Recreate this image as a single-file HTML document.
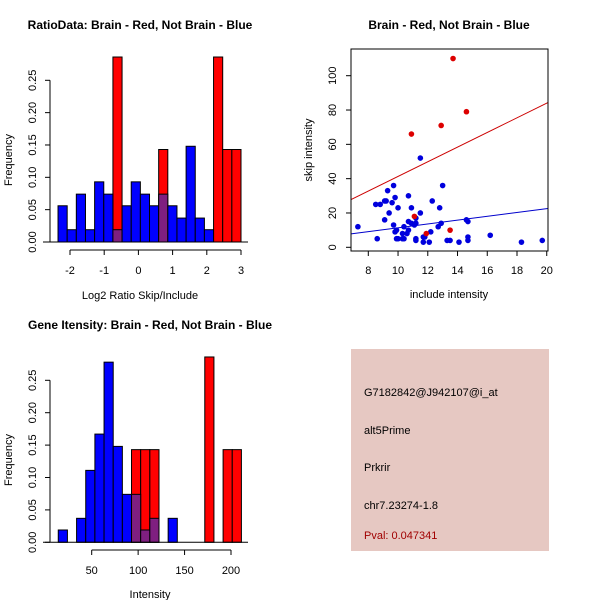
<!DOCTYPE html>
<html><head><meta charset="utf-8">
<style>
html,body{margin:0;padding:0;background:#fff;}
svg{display:block;font-family:"Liberation Sans",Arial,sans-serif;}
</style></head>
<body>
<svg id="c" width="600" height="600" viewBox="0 0 600 600" xmlns="http://www.w3.org/2000/svg">
<rect width="600" height="600" fill="#fff"/>
<text x="140" y="29" font-size="12" font-weight="bold" text-anchor="middle">RatioData: Brain - Red, Not Brain - Blue</text>
<text x="449" y="29" font-size="12" font-weight="bold" text-anchor="middle">Brain - Red, Not Brain - Blue</text>
<text x="150" y="329" font-size="12" font-weight="bold" text-anchor="middle">Gene Itensity: Brain - Red, Not Brain - Blue</text>
<text x="140" y="299" font-size="11" text-anchor="middle">Log2 Ratio Skip/Include</text>
<text x="0" y="0" font-size="11" text-anchor="middle" transform="translate(12,160) rotate(-90)">Frequency</text>
<text x="449" y="298" font-size="11" text-anchor="middle">include intensity</text>
<text x="0" y="0" font-size="11" text-anchor="middle" transform="translate(312,150) rotate(-90)">skip intensity</text>
<text x="150" y="598" font-size="11" text-anchor="middle">Intensity</text>
<text x="0" y="0" font-size="11" text-anchor="middle" transform="translate(12,460) rotate(-90)">Frequency</text>
<g>
<rect x="351" y="349" width="198" height="202" fill="#e6c8c2"/>
<text x="364" y="396" font-size="11">G7182842@J942107@i_at</text>
<text x="364" y="434" font-size="11">alt5Prime</text>
<text x="364" y="471" font-size="11">Prkrir</text>
<text x="364" y="509" font-size="11">chr7.23274-1.8</text>
<text x="364" y="539" font-size="11" fill="#a00000">Pval: 0.047341</text>
</g>
<g id="g1"></g><g id="g2"></g><g id="g3"></g>
</svg>
<script>
// ---- Ratio histogram data ----
const ratioBreakStart = -2.35;
const ratioBinWidth = 0.2675;
const ratioBlue = [0.056,0.019,0.074,0.019,0.093,0.074,0.019,0.056,0.093,0.074,0.056,0.074,0.056,0.037,0.148,0.037,0.019,0,0,0];
const ratioRed = [0,0,0,0,0,0,0.286,0,0,0,0,0.143,0,0,0,0,0,0.286,0.143,0.143];
const ratioXTicks = [-2,-1,0,1,2,3];
const freqTicks = [0,0.05,0.10,0.15,0.20,0.25];
const freqTickLabels = ["0.00","0.05","0.10","0.15","0.20","0.25"];
// ---- Intensity histogram data ----
const intBreakStart = 14;
const intBinWidth = 9.86;
const intBlue = [0.019,0,0.037,0.111,0.167,0.278,0.148,0.074,0.074,0.019,0.037,0,0.037,0,0,0,0,0,0,0];
const intRed = [0,0,0,0,0,0,0,0,0.143,0.143,0.143,0,0,0,0,0,0.286,0,0.143,0.143];
const intXTicks = [50,100,150,200];
// ---- Scatter data ----
const blueX = [7.3,8.6,8.5,8.8,9.1,9.2,9.3,9.1,9.4,9.6,9.7,9.8,9.7,9.8,9.9,9.9,10.0,10.0,10.3,10.4,10.3,10.4,10.6,10.7,10.7,10.7,10.9,10.9,11.1,11.2,11.2,11.2,11.2,11.5,11.5,11.7,11.7,11.8,12.1,12.2,12.3,12.7,12.8,12.9,13.0,13.3,13.5,14.1,14.6,14.7,14.7,14.7,16.2,18.3,19.7];
const blueY = [12,5,25,25,27,27,33,16,20,26,36,29,13,9,10,5,5,23,5,5,8,12,8,10,15,30,23,14,13,17,14,5,4,20,52,6,3,6,3,9,27,12,23,14,36,4,4,3,16,15,6,4,7,3,4];
const redX = [10.9,11.1,11.9,12.9,13.5,13.7,14.6];
const redY = [66,18,8,71,10,110,79];
const fitIntercept = [-1.4,0.2]; // red, blue
const fitSlope = [4.27,1.115];
const scatterXTicks = [8,10,12,14,16,18,20];
const scatterYTicks = [0,20,40,60,80,100];

const NS="http://www.w3.org/2000/svg";
function mk(parent,tag,attrs){const e=document.createElementNS(NS,tag);for(const k in attrs)e.setAttribute(k,attrs[k]);parent.appendChild(e);return e;}

function drawHist(g,start,w,blue,red,xTicks,xs,ys,xAxisY,prefix){
  const y0=ys(0);
  for(let i=0;i<red.length;i++){
    if(red[i]>0){
      const r=mk(g,'rect',{x:xs(start+i*w),y:ys(red[i]),width:xs(start+(i+1)*w)-xs(start+i*w),height:y0-ys(red[i]),fill:'#ff0000',stroke:'#000','stroke-width':1});
      
      
    }
  }
  for(let i=0;i<blue.length;i++){
    if(blue[i]>0){
      const col=red[i]>0?'#7f1f80':'#0000ff';
      const r=mk(g,'rect',{x:xs(start+i*w),y:ys(blue[i]),width:xs(start+(i+1)*w)-xs(start+i*w),height:y0-ys(blue[i]),fill:col,stroke:'#000','stroke-width':1});
      
      
    }
  }
  mk(g,'line',{x1:43,x2:248,y1:y0,y2:y0,stroke:'#000'});
  const xa=mk(g,'line',{x1:xs(xTicks[0]),x2:xs(xTicks[xTicks.length-1]),y1:xAxisY,y2:xAxisY,stroke:'#000'});
  
  
  xTicks.forEach(t=>{
    mk(g,'line',{x1:xs(t),x2:xs(t),y1:xAxisY,y2:xAxisY+5,stroke:'#000'});
    const tx=mk(g,'text',{x:xs(t),y:xAxisY+24,'font-size':11,'text-anchor':'middle'});
    tx.textContent=String(t);
    
    
  });
  const ya=mk(g,'line',{x1:50,x2:50,y1:ys(0),y2:ys(0.25),stroke:'#000'});
  
  
  freqTicks.forEach((t,i)=>{
    mk(g,'line',{x1:45,x2:50,y1:ys(t),y2:ys(t),stroke:'#000'});
    const tx=mk(g,'text',{x:0,y:0,'font-size':11,'text-anchor':'middle',transform:'translate(36,'+ys(t)+') rotate(-90)'});
    tx.textContent=freqTickLabels[i];
    
    
  });
}

(function(){
  const g=document.getElementById('g1');
  
  
  const xs=v=>70+(v+2)*34.2;
  const ys=v=>242-v*646.8;
  drawHist(g,ratioBreakStart,ratioBinWidth,ratioBlue,ratioRed,ratioXTicks,xs,ys,250,'ratio');
})();
(function(){
  const g=document.getElementById('g3');
  
  
  const xs=v=>91.7+(v-50)*0.9287;
  const ys=v=>542.3-v*648;
  drawHist(g,intBreakStart,intBinWidth,intBlue,intRed,intXTicks,xs,ys,550,'intensity');
})();
(function(){
  const g=document.getElementById('g2');
  
  
  const xs=v=>368.3+(v-8)*14.87;
  const ys=v=>247.3-v*1.716;
  const xmin=6.84,xmax=20.08;
  const lineCols=['#cc0000','#0000cc'];
  [0,1].forEach(k=>{
    const l=mk(g,'line',{x1:xs(xmin),y1:ys(fitIntercept[k]+fitSlope[k]*xmin),x2:xs(xmax),y2:ys(fitIntercept[k]+fitSlope[k]*xmax),stroke:lineCols[k],'stroke-width':1});
    
    
  });
  blueX.forEach((x,i)=>{
    const c=mk(g,'circle',{cx:xs(x),cy:ys(blueY[i]),r:2.8,fill:'#0000dd'});
    
    
  });
  redX.forEach((x,i)=>{
    const c=mk(g,'circle',{cx:xs(x),cy:ys(redY[i]),r:2.8,fill:'#dd0000'});
    
    
  });
  const b=mk(g,'rect',{x:351,y:49,width:197,height:202,fill:'none',stroke:'#000'});
  
  
  scatterXTicks.forEach(t=>{
    mk(g,'line',{x1:xs(t),x2:xs(t),y1:251,y2:256,stroke:'#000'});
    const tx=mk(g,'text',{x:xs(t),y:274,'font-size':11,'text-anchor':'middle'});
    tx.textContent=String(t);
    
    
  });
  scatterYTicks.forEach(t=>{
    mk(g,'line',{x1:346,x2:351,y1:ys(t),y2:ys(t),stroke:'#000'});
    const tx=mk(g,'text',{x:0,y:0,'font-size':11,'text-anchor':'middle',transform:'translate(336,'+ys(t)+') rotate(-90)'});
    tx.textContent=String(t);
    
    
  });
})();
</script>
</body></html>
